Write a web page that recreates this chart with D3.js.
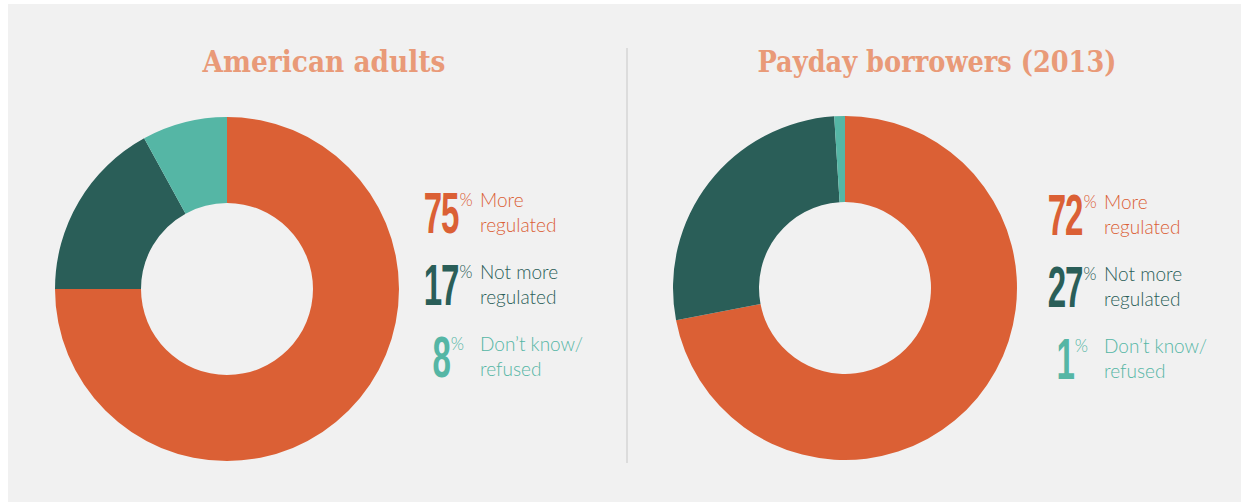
<!DOCTYPE html>
<html>
<head>
<meta charset="utf-8">
<script src="https://cdn.jsdelivr.net/npm/d3@7"></script>
<style>
  html, body { margin: 0; padding: 0; background: #ffffff; }
  svg { display: block; }
</style>
</head>
<body>
<div id="chart"></div>
<script>
// Chart data
const groups = ['American adults', 'Payday borrowers (2013)'];
const categories = ['More regulated', 'Not more regulated', "Don\u2019t know/ refused"];
const labelLines = [['More', 'regulated'], ['Not more', 'regulated'], ['Don\u2019t know/', 'refused']];
const adultsValues = [75, 17, 8];
const borrowersValues = [72, 27, 1];
const seriesValues = [adultsValues, borrowersValues];

const colors = ['#db6035', '#2a5e58', '#55b6a5'];
const titleColor = '#e99a78';

// Layout
const width = 1241, height = 502;
const panels = [
  { cx: 227, cy: 289, titleX: 324, titleW: 243, numX: 214, labelX: 253, baseY: 233 },
  { cx: 845, cy: 288, titleX: 937, titleW: 359, numX: 220, labelX: 259, baseY: 235 }
];
const outerR = 172, innerR = 86, rowStep = 72;
const numScale = 0.58;

let svg = d3.select('#chart')
  .append('svg')
  .attr('width', width)
  .attr('height', height);

// Panel background
svg.append('rect')
  .attr('x', 8).attr('y', 4)
  .attr('width', width - 8).attr('height', height - 4)
  .attr('fill', '#f1f1f1');

// Divider
svg.append('line')
  .attr('x1', 627).attr('x2', 627)
  .attr('y1', 48).attr('y2', 463)
  .attr('stroke', '#dcdcdc')
  .attr('stroke-width', 2);

let pie = d3.pie().sort(null).value(d => d);
let arc = d3.arc().innerRadius(innerR).outerRadius(outerR);

groups.forEach((name, gi) => {
  let p = panels[gi];
  let values = seriesValues[gi];

  // Title
  svg.append('text')
    .attr('x', p.titleX)
    .attr('y', 72)
    .attr('text-anchor', 'middle')
    .attr('fill', titleColor)
    .attr('textLength', p.titleW)
    .attr('lengthAdjust', 'spacingAndGlyphs')
    .style('font-family', '"DejaVu Serif", serif')
    .style('font-weight', 'bold')
    .style('font-size', '30px')
    .text(name);

  // Donut
  let g = svg.append('g')
    .attr('transform', `translate(${p.cx}, ${p.cy})`);

  g.selectAll('path')
    .data(pie(values))
    .enter()
    .append('path')
    .attr('d', arc)
    .attr('fill', (d, i) => colors[i]);

  // Legend
  values.forEach((v, i) => {
    let base = p.baseY + i * rowStep;
    let numCx = p.cx + p.numX;

    let num = svg.append('text')
      .attr('transform', `translate(${numCx}, ${base}) scale(${numScale}, 1)`)
      .attr('text-anchor', 'middle')
      .attr('fill', colors[i])
      .style('font-family', '"Liberation Sans Narrow", "Liberation Sans", sans-serif')
      .style('font-weight', 'bold')
      .style('font-size', '57px')
      .style('letter-spacing', '-2px')
      .text(v);

    let w = num.node().getBBox().width * numScale;

    svg.append('text')
      .attr('x', numCx + w / 2 + 1)
      .attr('y', base - 27)
      .attr('fill', colors[i])
      .style('font-family', 'Lato, sans-serif')
      .style('font-weight', 300)
      .style('font-size', '17px')
      .text('%');

    labelLines[i].forEach((line, li) => {
      svg.append('text')
        .attr('x', p.cx + p.labelX)
        .attr('y', base - 26 + li * 25)
        .attr('fill', colors[i])
        .style('font-family', 'Lato, sans-serif')
        .style('font-weight', 300)
        .style('font-size', '19px')
        .text(line);
    });
  });
});
</script>
</body>
</html>
